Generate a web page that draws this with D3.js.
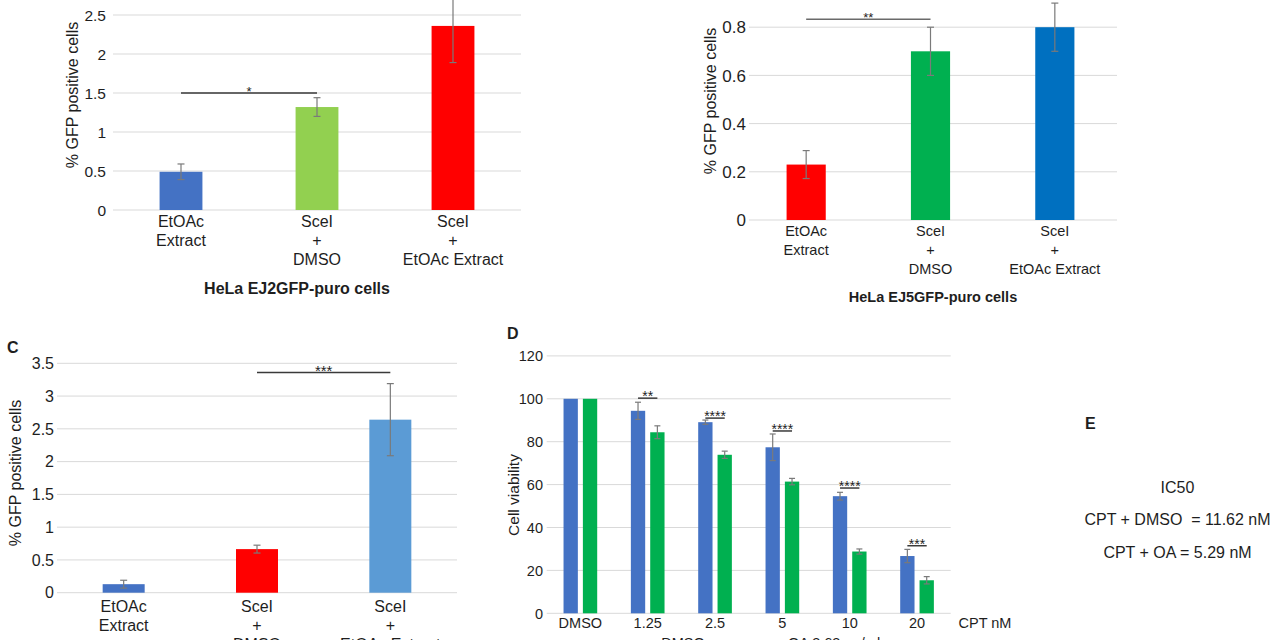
<!DOCTYPE html>
<html>
<head>
<meta charset="utf-8">
<script src="https://cdn.jsdelivr.net/npm/d3@7"></script>
<style>
  html, body { margin: 0; padding: 0; background: #fff; }
  svg { display: block; font-family: "Liberation Sans", Arial, sans-serif; }
  text { fill: #1e1e1e; white-space: pre; }
</style>
</head>
<body>
<svg id="chart" width="1280" height="640"></svg>
<script>
// ---------- DATA ----------
const categoriesABC = ["EtOAc|Extract", "SceI|+|DMSO", "SceI|+|EtOAc Extract"];

const valuesA = [0.49, 1.32, 2.36];
const errorsA = [0.10, 0.12, 0.47];
const colorsA = ["#4472C4", "#92D050", "#FF0000"];
const ticksA = [0, 0.5, 1, 1.5, 2, 2.5];
const sigA = { from: 0, to: 1, level: 1.5, label: "*" };

const valuesB = [0.23, 0.70, 0.80];
const errorsB = [0.058, 0.10, 0.10];
const colorsB = ["#FF0000", "#00B050", "#0070C0"];
const ticksB = [0, 0.2, 0.4, 0.6, 0.8];
const sigB = { from: 0, to: 1, level: 0.833, label: "**" };

const valuesC = [0.13, 0.665, 2.64];
const errorsC = [0.06, 0.06, 0.55];
const colorsC = ["#4472C4", "#FF0000", "#5B9BD5"];
const ticksC = [0, 0.5, 1, 1.5, 2, 2.5, 3, 3.5];
const sigC = { from: 1, to: 2, level: 3.36, label: "***" };

const categoriesD = ["DMSO", "1.25", "2.5", "5", "10", "20"];
const seriesD = ["DMSO", "OA 3.63 µg/ml"];
const dmsoValues = [100, 94.4, 89.1, 77.4, 54.6, 26.7];
const dmsoErrors = [0, 4.0, 1.0, 6.2, 1.8, 3.1];
const oaValues = [100, 84.4, 73.9, 61.4, 28.8, 15.4];
const oaErrors = [0, 3.0, 1.7, 1.5, 1.2, 1.7];
const colorsD = ["#4472C4", "#00B050"];
const ticksD = [0, 20, 40, 60, 80, 100, 120];
const sigLabelsD = ["", "**", "****", "****", "****", "***"];
const sigLevelsD = [null, 100.3, 91, 85, 58.4, 31.5];

const ic50Title = "IC50";
const ic50Lines = ["CPT + DMSO  = 11.62 nM", "CPT + OA = 5.29 nM"];

// ---------- DRAW ----------
const svg = d3.select("#chart");
const GRID = "#d9d9d9";
const ERR = "#7a7a7a";
const SIG = "#3a3a3a";

function drawSimple(cfg) {
  const g = svg.append("g");
  const x = d3.scaleBand().domain(d3.range(cfg.values.length))
    .range(cfg.xRange).paddingInner(0.685).paddingOuter(0.3425);
  const y = d3.scaleLinear().domain([0, d3.max(cfg.ticks)]).range(cfg.yRange);

  g.selectAll("line.grid").data(cfg.ticks).join("line")
    .attr("x1", cfg.gridX0 ?? cfg.xRange[0]).attr("x2", cfg.xRange[1])
    .attr("y1", d => y(d)).attr("y2", d => y(d))
    .attr("stroke", GRID).attr("stroke-width", 1);

  g.selectAll("text.tick").data(cfg.ticks).join("text")
    .attr("x", cfg.tickX).attr("y", d => y(d)).attr("dy", "0.36em")
    .attr("text-anchor", "end").style("font-size", cfg.tickFont + "px")
    .text(d => d3.format("~g")(d));

  g.selectAll("rect.bar").data(cfg.values).join("rect")
    .attr("x", (d, i) => x(i)).attr("width", x.bandwidth())
    .attr("y", d => y(d)).attr("height", d => y(0) - y(d))
    .attr("fill", (d, i) => cfg.colors[i]);

  const eb = g.selectAll("g.err").data(cfg.values).join("g");
  const cx = i => x(i) + x.bandwidth() / 2;
  eb.append("line")
    .attr("x1", (d, i) => cx(i)).attr("x2", (d, i) => cx(i))
    .attr("y1", (d, i) => y(d - cfg.errors[i])).attr("y2", (d, i) => y(d + cfg.errors[i]))
    .attr("stroke", ERR).attr("stroke-width", 1.2);
  [-1, 1].forEach(s => {
    eb.append("line")
      .attr("x1", (d, i) => cx(i) - 3.5).attr("x2", (d, i) => cx(i) + 3.5)
      .attr("y1", (d, i) => y(d + s * cfg.errors[i])).attr("y2", (d, i) => y(d + s * cfg.errors[i]))
      .attr("stroke", ERR).attr("stroke-width", 1.2);
  });

  cfg.cats.forEach((c, i) => {
    c.split("|").forEach((line, k) => {
      g.append("text").attr("x", cx(i)).attr("y", cfg.labelBaselines[k])
        .attr("text-anchor", "middle").style("font-size", cfg.labelFont + "px")
        .text(line);
    });
  });

  const s = cfg.sig;
  g.append("line").attr("x1", cx(s.from)).attr("x2", cx(s.to))
    .attr("y1", y(s.level)).attr("y2", y(s.level))
    .attr("stroke", cfg.sigColor || SIG).attr("stroke-width", 1.5);
  g.append("text").attr("x", (cx(s.from) + cx(s.to)) / 2).attr("y", y(s.level) + cfg.starDy)
    .attr("text-anchor", "middle").style("font-size", cfg.starFont + "px").text(s.label);

  g.append("text").attr("transform", `translate(${cfg.yTitle[0]},${cfg.yTitle[1]}) rotate(-90)`)
    .attr("text-anchor", "middle").style("font-size", "16px").text("% GFP positive cells");

  if (cfg.xTitle) {
    g.append("text").attr("x", cfg.xTitle.x).attr("y", cfg.xTitle.y)
      .attr("text-anchor", "middle").style("font-size", cfg.xTitle.size + "px")
      .style("font-weight", "bold").text(cfg.xTitle.text);
  }
}

// Panel A
drawSimple({
  cats: categoriesABC, values: valuesA, errors: errorsA, colors: colorsA, ticks: ticksA,
  xRange: [113, 521], yRange: [210, 15], tickX: 106, tickFont: 15.5,
  labelBaselines: [226.5, 245.5, 264.5], labelFont: 16,
  sig: sigA, starDy: 2.5, starFont: 13, yTitle: [77.5, 95],
  xTitle: { text: "HeLa EJ2GFP-puro cells", x: 297, y: 294, size: 16 }
});

// Panel B
drawSimple({
  cats: categoriesABC, values: valuesB, errors: errorsB, colors: colorsB, ticks: ticksB,
  xRange: [744, 1117], gridX0: 749, yRange: [220, 27.2], tickX: 746, tickFont: 17,
  labelBaselines: [235.5, 255, 273.5], labelFont: 14.5,
  sig: sigB, starDy: 2.5, starFont: 13, sigColor: "#6a6a6a", yTitle: [715.5, 101],
  xTitle: { text: "HeLa EJ5GFP-puro cells", x: 933, y: 302, size: 14.5 }
});

// Panel C
drawSimple({
  cats: categoriesABC, values: valuesC, errors: errorsC, colors: colorsC, ticks: ticksC,
  xRange: [57, 457], yRange: [592.7, 363.3], tickX: 54, tickFont: 16,
  labelBaselines: [611.5, 630.5, 649.5], labelFont: 16,
  sig: sigC, starDy: 4, starFont: 15, yTitle: [20.5, 473], xTitle: null
});

// Panel labels
svg.append("text").attr("x", 7).attr("y", 353).style("font-size", "16px").style("font-weight", "bold").text("C");
svg.append("text").attr("x", 507).attr("y", 338.5).style("font-size", "16px").style("font-weight", "bold").text("D");
svg.append("text").attr("x", 1085).attr("y", 429).style("font-size", "16px").style("font-weight", "bold").text("E");

// Panel D
(function () {
  const g = svg.append("g");
  const x0 = d3.scaleBand().domain(categoriesD).range([546.7, 950.7]).padding(0);
  const x1 = d3.scaleBand().domain(seriesD)
    .range([x0.bandwidth() * 0.25, x0.bandwidth() * 0.75]).paddingInner(0.26);
  const y = d3.scaleLinear().domain([0, 120]).range([613.3, 355.9]);

  g.selectAll("line.grid").data(ticksD).join("line")
    .attr("x1", 546.7).attr("x2", 950.7)
    .attr("y1", d => y(d)).attr("y2", d => y(d))
    .attr("stroke", GRID).attr("stroke-width", 1);
  g.selectAll("text.tick").data(ticksD).join("text")
    .attr("x", 543).attr("y", d => y(d)).attr("dy", "0.36em")
    .attr("text-anchor", "end").style("font-size", "14.5px").text(d => d);

  const rows = categoriesD.map((c, i) => ({
    cat: c,
    items: [
      { s: seriesD[0], v: dmsoValues[i], e: dmsoErrors[i], col: colorsD[0] },
      { s: seriesD[1], v: oaValues[i], e: oaErrors[i], col: colorsD[1] }
    ]
  }));

  const grp = g.selectAll("g.grp").data(rows).join("g")
    .attr("transform", d => `translate(${x0(d.cat)},0)`);
  grp.selectAll("rect").data(d => d.items).join("rect")
    .attr("x", d => x1(d.s)).attr("width", x1.bandwidth())
    .attr("y", d => y(d.v)).attr("height", d => y(0) - y(d.v))
    .attr("fill", d => d.col);

  const errs = grp.selectAll("g.e").data(d => d.items.filter(it => it.e > 0)).join("g");
  const bc = d => x1(d.s) + x1.bandwidth() / 2;
  errs.append("line").attr("x1", bc).attr("x2", bc)
    .attr("y1", d => y(d.v - d.e)).attr("y2", d => y(d.v + d.e))
    .attr("stroke", ERR).attr("stroke-width", 1.2);
  [-1, 1].forEach(s => {
    errs.append("line").attr("x1", d => bc(d) - 3).attr("x2", d => bc(d) + 3)
      .attr("y1", d => y(d.v + s * d.e)).attr("y2", d => y(d.v + s * d.e))
      .attr("stroke", ERR).attr("stroke-width", 1.2);
  });

  categoriesD.forEach((c, i) => {
    if (sigLevelsD[i] == null) return;
    const a = x0(c) + x1(seriesD[0]) + x1.bandwidth() / 2;
    const b = x0(c) + x1(seriesD[1]) + x1.bandwidth() / 2;
    g.append("line").attr("x1", a).attr("x2", b)
      .attr("y1", y(sigLevelsD[i])).attr("y2", y(sigLevelsD[i]))
      .attr("stroke", SIG).attr("stroke-width", 1.5);
    g.append("text").attr("x", (a + b) / 2).attr("y", y(sigLevelsD[i]) + 3)
      .attr("text-anchor", "middle").style("font-size", "14px").text(sigLabelsD[i]);
  });

  g.selectAll("text.xl").data(categoriesD).join("text")
    .attr("x", d => x0(d) + x0.bandwidth() / 2).attr("y", 628)
    .attr("text-anchor", "middle").style("font-size", "14.5px").text(d => d);
  g.append("text").attr("x", 985).attr("y", 628).attr("text-anchor", "middle")
    .style("font-size", "14.5px").text("CPT nM");

  g.append("text").attr("transform", "translate(519,495) rotate(-90)")
    .attr("text-anchor", "middle").style("font-size", "15.5px").text("Cell viability");

  // legend (cut off at the bottom edge, as in the reference)
  g.append("text").attr("x", 683).attr("y", 647.5).attr("text-anchor", "middle")
    .style("font-size", "14.5px").text(seriesD[0]);
  g.append("text").attr("x", 788).attr("y", 647.5).attr("text-anchor", "start")
    .style("font-size", "14.5px").text(seriesD[1]);
})();

// Panel E
svg.append("text").attr("x", 1177.5).attr("y", 492.5).attr("text-anchor", "middle")
  .style("font-size", "16px").text(ic50Title);
ic50Lines.forEach((t, i) => {
  svg.append("text").attr("x", 1177.5).attr("y", 525 + i * 32.7).attr("text-anchor", "middle")
    .style("font-size", "16px").text(t);
});
</script>
</body>
</html>
